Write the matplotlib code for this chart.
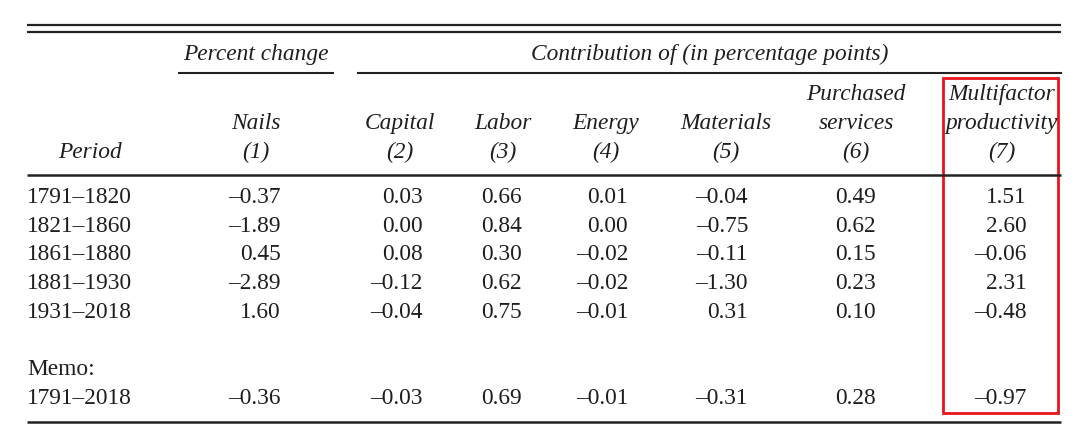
import matplotlib.pyplot as plt
from matplotlib.patches import Rectangle

# table data
periods = ["1791–1820", "1821–1860", "1861–1880", "1881–1930", "1931–2018"]
memo_period = "1791–2018"
nails = [-0.37, -1.89, 0.45, -2.89, 1.60]
capital = [0.03, 0.00, 0.08, -0.12, -0.04]
labor = [0.66, 0.84, 0.30, 0.62, 0.75]
energy = [0.01, 0.00, -0.02, -0.02, -0.01]
materials = [-0.04, -0.75, -0.11, -1.30, 0.31]
purchased = [0.49, 0.62, 0.15, 0.23, 0.10]
mfp = [1.51, 2.60, -0.06, 2.31, -0.48]
memo = [-0.36, -0.03, 0.69, -0.01, -0.31, 0.28, -0.97]

col_headers = [["Nails", "(1)"], ["Capital", "(2)"], ["Labor", "(3)"],
               ["Energy", "(4)"], ["Materials", "(5)"],
               ["Purchased", "services", "(6)"],
               ["Multifactor", "productivity", "(7)"]]

plt.rcParams['font.family'] = ['Liberation Serif', 'DejaVu Serif']
FS = 16.8
TXT = '#1e1e1e'

fig = plt.figure(figsize=(10.8, 4.34), dpi=100)
ax = fig.add_axes([0, 0, 1, 1])
ax.set_xlim(0, 1080)
ax.set_ylim(434, 0)
ax.axis('off')

col_center = [256, 400, 503, 606, 726, 856, 1002]
col_right = [281, 423, 522, 628, 748, 876, 1027]
row_base = [203, 232, 260, 289, 318]
memo_label_base = 375
memo_base = 404
x_left = 27
x_right = 1061


def fmt(v):
    s = f"{abs(v):.2f}"
    return ("–" + s) if v < 0 else s


def put(x, y, s, ha, italic=False):
    ax.text(x, y, s, ha=ha, va='baseline', fontsize=FS, color=TXT,
            style='italic' if italic else 'normal')


# rules
for y, lw in [(25, 1.6), (32, 1.6), (175, 1.8), (422, 1.8)]:
    ax.plot([x_left, x_right], [y, y], color='#222222', lw=lw, solid_capstyle='butt')
ax.plot([179, 333], [73, 73], color='#222222', lw=1.5)
ax.plot([358, x_right], [73, 73], color='#222222', lw=1.5)

# spanning headers
put(256, 60, "Percent change", 'center', True)
put(710, 60, "Contribution of (in percentage points)", 'center', True)

# column headers
put(90, 158, "Period", 'center', True)
line_base = [100, 129, 158]
for cx, lines in zip(col_center, col_headers):
    for txt, y in zip(lines, line_base[-len(lines):]):
        put(cx, y, txt, 'center', True)

# body
columns = [nails, capital, labor, energy, materials, purchased, mfp]
for i, p in enumerate(periods):
    put(x_left, row_base[i], p, 'left')
    for j, col in enumerate(columns):
        put(col_right[j], row_base[i], fmt(col[i]), 'right')

put(x_left, memo_label_base, "Memo:", 'left')
put(x_left, memo_base, memo_period, 'left')
for j, v in enumerate(memo):
    put(col_right[j], memo_base, fmt(v), 'right')

# highlight box
ax.add_patch(Rectangle((943, 78), 115, 335, fill=False, edgecolor='#e8141b', lw=2))

fig.savefig("out.png", dpi=100)
